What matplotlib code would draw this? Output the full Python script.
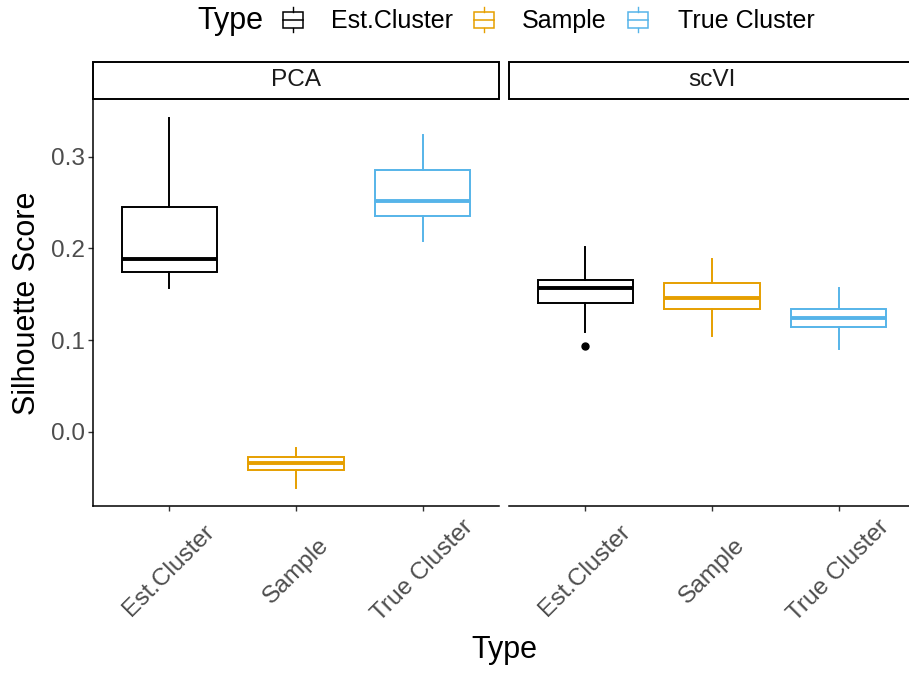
import matplotlib
matplotlib.use("Agg")
import matplotlib.pyplot as plt
from matplotlib.patches import Rectangle
from matplotlib.lines import Line2D

plt.rcParams['font.family'] = ['Liberation Sans', 'DejaVu Sans']

# data
methods = ["PCA", "scVI"]
types = ["Est.Cluster", "Sample", "True Cluster"]
colors = ["#000000", "#E69F00", "#56B4E9"]

# PCA: lower whisker, q1, median, q3, upper whisker
pca_whislo = [0.157, -0.061, 0.2085]
pca_q1 = [0.1746, -0.0416, 0.235]
pca_med = [0.189, -0.0343, 0.2516]
pca_q3 = [0.245, -0.0277, 0.286]
pca_whishi = [0.343, -0.0175, 0.324]
pca_fliers = [[], [], []]

# scVI
scvi_whislo = [0.1089, 0.104, 0.0898]
scvi_q1 = [0.141, 0.1337, 0.1147]
scvi_med = [0.1563, 0.1457, 0.1242]
scvi_q3 = [0.1658, 0.1618, 0.1337]
scvi_whishi = [0.2015, 0.189, 0.1563]
scvi_fliers = [[0.0931], [], []]

data = {
    "PCA": (pca_whislo, pca_q1, pca_med, pca_q3, pca_whishi, pca_fliers),
    "scVI": (scvi_whislo, scvi_q1, scvi_med, scvi_q3, scvi_whishi, scvi_fliers),
}

W, H = 909, 673
fig = plt.figure(figsize=(W / 100, H / 100), dpi=100)

# y range with ggplot style 5% expansion
all_vals = pca_whislo + pca_whishi + scvi_whislo + scvi_whishi + [v for f in scvi_fliers for v in f]
lo, hi = min(all_vals), max(all_vals)
pad = (hi - lo) * 0.05
ylim = (lo - pad, hi + pad)

txt_gray = "#4D4D4D"
panel_left = [93, 509]
panel_w = 406
panel_top, panel_bot = 99, 506
strip_h = 37

for k, m in enumerate(methods):
    ax = fig.add_axes([panel_left[k] / W, (H - panel_bot) / H, panel_w / W, (panel_bot - panel_top) / H])
    wl, q1, md, q3, wh, fl = data[m]
    for i, t in enumerate(types):
        c = colors[i]
        stat = dict(whislo=wl[i], q1=q1[i], med=md[i], q3=q3[i], whishi=wh[i], fliers=fl[i], label=t)
        ax.bxp([stat], positions=[i + 1], widths=0.75, showcaps=False, manage_ticks=False,
               boxprops=dict(color=c, lw=1.4, solid_joinstyle="miter"),
               whiskerprops=dict(color=c, lw=1.4),
               medianprops=dict(color=c, lw=2.8, solid_capstyle="butt"),
               flierprops=dict(marker="o", markerfacecolor=c, markeredgecolor=c, markersize=5))
    ax.set_xlim(0.4, 3.6)
    ax.set_ylim(*ylim)
    ax.set_xticks([1, 2, 3])
    ax.set_xticklabels(types, rotation=45, ha="center", va="center", fontsize=17.6, color=txt_gray)
    ax.tick_params(axis="x", length=3.6, width=1.0, color="#333333", pad=43)
    for s in ["top", "right"]:
        ax.spines[s].set_visible(False)
    ax.spines["bottom"].set_linewidth(1.1)
    ax.spines["left"].set_linewidth(1.1)
    if k == 0:
        ax.set_yticks([0.0, 0.1, 0.2, 0.3])
        ax.set_yticklabels(["0.0", "0.1", "0.2", "0.3"], fontsize=17.6, color=txt_gray)
        ax.tick_params(axis="y", length=3.6, width=1.0, color="#333333", pad=2.2)
    else:
        ax.spines["left"].set_visible(False)
        ax.set_yticks([])
    # facet strip
    hfrac = strip_h / (panel_bot - panel_top)
    ax.add_patch(Rectangle((0, 1.0), 1, hfrac, transform=ax.transAxes, facecolor="white",
                           edgecolor="black", lw=1.4, clip_on=False))
    ax.text(0.5, 1 + hfrac / 2, m, transform=ax.transAxes, ha="center", va="center",
            fontsize=17.6, color="#1A1A1A")

# axis titles
fig.text(27 / W, 1 - 303 / H, "Silhouette Score", rotation=90, ha="center", va="center", fontsize=22)
fig.text(504 / W, 1 - 650 / H, "Type", ha="center", va="center", fontsize=22)

# legend on top
leg_y = 1 - 20 / H
fig.text(197 / W, 1 - 21 / H, "Type", ha="left", va="center", fontsize=22)
key_x = [293, 484, 638]
label_x = [331, 522, 678]
for i, t in enumerate(types):
    c = colors[i]
    cx = key_x[i]
    bw, bh = 10, 8
    # whiskers above and below the little box
    fig.add_artist(Line2D([cx / W, cx / W], [1 - 7 / H, 1 - (20 - bh) / H], color=c, lw=1.0))
    fig.add_artist(Line2D([cx / W, cx / W], [1 - (20 + bh) / H, 1 - 32 / H], color=c, lw=1.0))
    fig.add_artist(Rectangle(((cx - bw) / W, 1 - (20 + bh) / H), 2 * bw / W, 2 * bh / H,
                             facecolor="white", edgecolor=c, lw=1.1))
    fig.add_artist(Line2D([(cx - bw) / W, (cx + bw) / W], [leg_y, leg_y], color=c, lw=1.1))
    fig.text(label_x[i] / W, 1 - 21 / H, t, ha="left", va="center", fontsize=18)

fig.savefig("out.png", dpi=100, facecolor="white")
